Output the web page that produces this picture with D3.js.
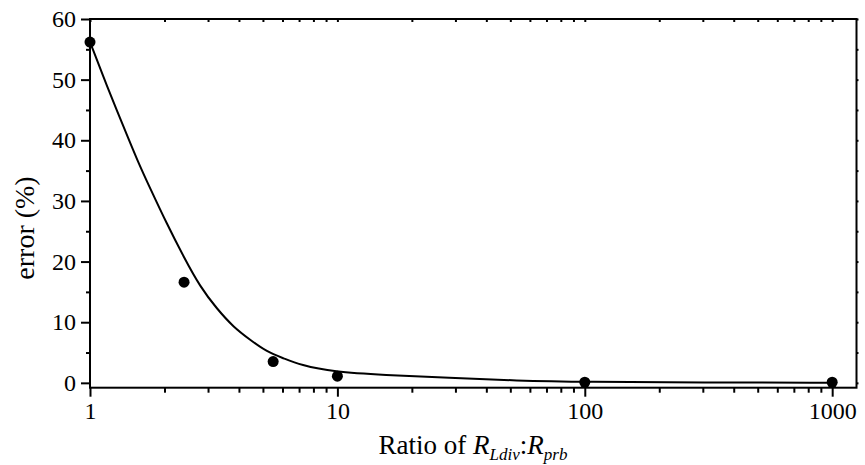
<!DOCTYPE html>
<html>
<head>
<meta charset="utf-8">
<script src="https://cdn.jsdelivr.net/npm/d3@7"></script>
<style>
  body { margin: 0; background: #fff; }
  svg text { font-family: "Liberation Serif", serif; fill: #000; }
  .domain { display: none; }
</style>
</head>
<body>
<svg id="chart" width="865" height="465"></svg>
<script>
// measured points
const ratios = [1, 2.4, 5.5, 10, 100, 1000]
const errors = [56.2, 16.6, 3.5, 1.1, 0.1, 0.1]

// fitted curve
const fitRatios = [1, 1.18, 1.34, 1.56, 1.75, 2.04, 2.39, 2.79, 3.26, 3.8, 4.44, 5.19, 6.06, 7.08, 9.66, 15.4, 28.2, 53, 100, 300, 1000]
const fitErrors = [56.2, 48.6, 43.1, 36.5, 32.1, 26.3, 20.8, 15.8, 12.2, 9.2, 7.1, 5.1, 4.05, 2.94, 1.8, 1.3, 0.85, 0.35, 0.15, 0.06, 0.03]

const xMajor = [1, 10, 100, 1000]
const yMajor = [0, 10, 20, 30, 40, 50, 60]
const yMinor = [5, 15, 25, 35, 45, 55]

const svg = d3.select('#chart')
const width = 865
const height = 465
const margin = { top: 19, right: 8.5, bottom: 77.3, left: 90 }
const innerW = width - margin.left - margin.right
const innerH = height - margin.top - margin.bottom

const x = d3.scaleLog().domain([1, 1254]).range([0, innerW])
const y = d3.scaleLinear().domain([-0.8, 60]).range([innerH, 0])

const xMinor = []
xMajor.forEach(d => {
    for (let k = 2; k < 10; k++) if (d * k < 1254) xMinor.push(d * k)
})

const g = svg.append('g').attr('transform', `translate(${margin.left},${margin.top})`)

const styleAxis = sel => {
    sel.selectAll('line').attr('stroke', '#000').attr('stroke-width', 2)
    sel.selectAll('text').style('font-size', '24px')
}

// bottom
g.append('g').attr('transform', `translate(0,${innerH})`)
    .call(d3.axisBottom(x).tickValues(xMajor).tickSize(9).tickPadding(5).tickFormat(d3.format('d')))
    .call(styleAxis)
g.append('g').attr('transform', `translate(0,${innerH})`)
    .call(d3.axisBottom(x).tickValues(xMinor).tickSize(5).tickFormat(''))
    .call(styleAxis)

// left
g.append('g')
    .call(d3.axisLeft(y).tickValues(yMajor).tickSize(9).tickPadding(5))
    .call(styleAxis)
g.append('g')
    .call(d3.axisLeft(y).tickValues(yMinor).tickSize(4).tickFormat(''))
    .call(styleAxis)

// top & right mirror ticks
g.append('g')
    .call(d3.axisTop(x).tickValues(xMajor.concat(xMinor)).tickSize(-3).tickFormat(''))
    .call(styleAxis)
g.append('g').attr('transform', `translate(${innerW},0)`)
    .call(d3.axisRight(y).tickValues(yMajor.concat(yMinor)).tickSize(2).tickFormat(''))
    .call(styleAxis)

// frame
g.append('rect')
    .attr('width', innerW).attr('height', innerH)
    .attr('fill', 'none').attr('stroke', '#000').attr('stroke-width', 2)

// fitted curve
const line = d3.line()
    .x((d, i) => x(fitRatios[i]))
    .y(d => y(d))
    .curve(d3.curveBasis)

g.append('path')
    .datum(fitErrors)
    .attr('d', line)
    .attr('fill', 'none')
    .attr('stroke', '#000')
    .attr('stroke-width', 2)

// points
g.selectAll('circle.pt')
    .data(errors)
    .join('circle')
    .attr('class', 'pt')
    .attr('cx', (d, i) => x(ratios[i]))
    .attr('cy', d => y(d))
    .attr('r', 5.5)
    .attr('fill', '#000')

// y title
svg.append('text')
    .attr('transform', `translate(34,228) rotate(-90)`)
    .style('text-anchor', 'middle')
    .style('font-size', '28px')
    .text('error (%)')

// x title
const xt = svg.append('text')
    .attr('x', 473)
    .attr('y', 454)
    .style('text-anchor', 'middle')
    .style('font-size', '27px')
xt.append('tspan').text('Ratio of ')
xt.append('tspan').style('font-style', 'italic').text('R')
xt.append('tspan').style('font-style', 'italic').style('font-size', '17px').attr('dy', 6).text('Ldiv')
xt.append('tspan').attr('dy', -6).text(':')
xt.append('tspan').style('font-style', 'italic').text('R')
xt.append('tspan').style('font-style', 'italic').style('font-size', '17px').attr('dy', 6).text('prb')
</script>
</body>
</html>
